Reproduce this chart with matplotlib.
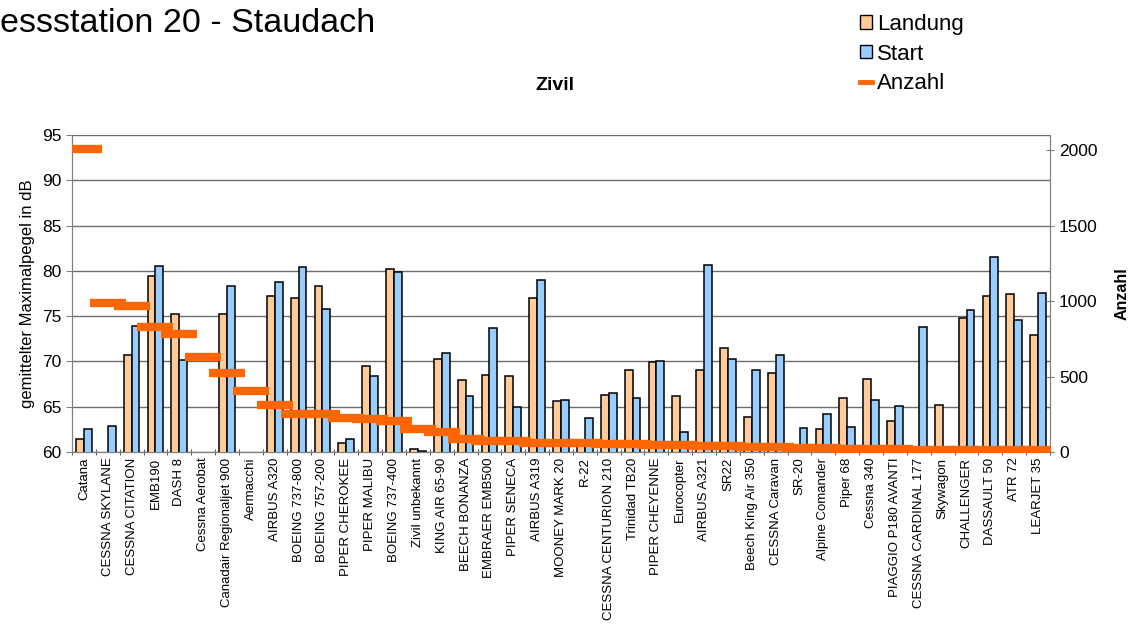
import numpy as np
import matplotlib
matplotlib.use('Agg')
import matplotlib.pyplot as plt
from matplotlib.lines import Line2D
from matplotlib.patches import Patch

plt.rcParams.update({
    'font.family': ['Liberation Sans', 'DejaVu Sans'],
    'axes.edgecolor': '#808080',
    'xtick.color': '#000000', 'ytick.color': '#000000',
})
COLORS = {'landung': '#FFCC99', 'start': '#99CCFF', 'anzahl': '#FF6600'}

# ── Data ──────────────────────────────────────────────────────
types = [
    'Catana', 'CESSNA SKYLANE', 'CESSNA CITATION', 'EMB190', 'DASH 8',
    'Cessna Aerobat', 'Canadair Regionaljet 900', 'Aermacchi', 'AIRBUS A320',
    'BOEING 737-800', 'BOEING 757-200', 'PIPER CHEROKEE', 'PIPER MALIBU',
    'BOEING 737-400', 'Zivil unbekannt', 'KING AIR 65-90', 'BEECH BONANZA',
    'EMBRAER EMB500', 'PIPER SENECA', 'AIRBUS A319', 'MOONEY MARK 20', 'R-22',
    'CESSNA CENTURION 210', 'Trinidad TB20', 'PIPER CHEYENNE', 'Eurocopter',
    'AIRBUS A321', 'SR22', 'Beech King Air 350', 'CESSNA Caravan', 'SR-20',
    'Alpine Comander', 'Piper 68', 'Cessna 340', 'PIAGGIO P180 AVANTI',
    'CESSNA CARDINAL 177', 'Skywagon', 'CHALLENGER', 'DASSAULT 50', 'ATR 72',
    'LEARJET 35',
]
landung = [61.4, 0, 70.7, 79.4, 75.2, 0, 75.2, 0, 77.2, 77.0,
           78.3, 61.0, 69.5, 80.2, 60.3, 70.3, 68.0, 68.5, 68.4, 77.0,
           65.6, 61.0, 66.3, 69.1, 69.9, 66.2, 69.1, 71.5, 63.9, 68.7,
           0, 62.5, 66.0, 68.1, 63.4, 0, 65.2, 74.8, 77.2, 77.4,
           72.9]
start = [62.5, 62.9, 73.9, 80.5, 70.2, 0, 78.3, 0, 78.8, 80.4,
         75.8, 61.4, 68.4, 79.9, 60.15, 70.9, 66.2, 73.7, 65.0, 79.0,
         65.7, 63.8, 66.5, 66.0, 70.1, 62.2, 80.7, 70.3, 69.1, 70.7,
         62.7, 64.2, 62.8, 65.7, 65.1, 73.8, 0, 75.7, 81.5, 74.6,
         77.5]
anzahl = [2010, 990, 967, 826, 784, 631, 525, 402, 313, 254,
          250, 227, 220, 205, 150, 130, 88, 75, 70, 62,
          62, 62, 50, 50, 48, 45, 42, 38, 35, 32,
          28, 25, 22, 20, 18, 16, 15, 14, 12, 11,
          10]

# ── Figure ────────────────────────────────────────────────────
fig = plt.figure(figsize=(11.37, 6.28), dpi=100)
ax = fig.add_axes([0.0633, 0.2803, 0.8602, 0.5047])
x = np.arange(len(types))
w = 0.33

ax.bar(x - w / 2, landung, w, color=COLORS['landung'],
       edgecolor='black', linewidth=1.1, zorder=3)
ax.bar(x + w / 2, start, w, color=COLORS['start'],
       edgecolor='black', linewidth=1.1, zorder=3)

ax.set_xlim(-0.5, len(types) - 0.5)
ax.set_ylim(60, 95)
ax.set_yticks(range(60, 96, 5))
ax.grid(True, axis='y', color='#6e6e6e', linewidth=1.0, zorder=0)
ax.set_ylabel('gemittelter Maximalpegel in dB', fontsize=12, labelpad=5)
ax.tick_params(axis='y', labelsize=12.5, length=4, color='#808080')

# category labels at centres, tick marks at the boundaries
ax.set_xticks(x)
ax.set_xticklabels(types, rotation=90, fontsize=9.5)
ax.tick_params(axis='x', which='major', length=0, pad=4)
ax.set_xticks(np.arange(len(types) + 1) - 0.5, minor=True)
ax.tick_params(axis='x', which='minor', length=4, direction='inout',
               color='#404040')
ax.spines['top'].set_visible(False)
ax.spines['bottom'].set_color('#404040')

# ── Anzahl on the right axis ──────────────────────────────────
ax2 = ax.twinx()
ax2.plot(x, anzahl, linestyle='none', marker='_', markersize=26,
         markeredgewidth=6, color=COLORS['anzahl'], zorder=5)
ax2.set_ylim(0, 2100)
ax2.set_yticks(range(0, 2001, 500))
ax2.tick_params(axis='y', labelsize=12.5, length=6, direction='inout',
                color='#808080')
ax2.set_ylabel('Anzahl', fontsize=11.5, fontweight='bold', labelpad=12)
ax2.spines['top'].set_visible(False)

# ── Titles and legend ─────────────────────────────────────────
# the reference title is cropped at the left edge, only this part is visible
fig.text(0.0, 1 - 32 / 628, 'essstation 20 - Staudach',
         fontsize=24.5, ha='left', va='baseline')
fig.text(555 / 1137, 1 - 85 / 628, 'Zivil', fontsize=14,
         fontweight='bold', ha='center', va='center')

handles = [
    Patch(facecolor=COLORS['landung'], edgecolor='black', label='Landung'),
    Patch(facecolor=COLORS['start'], edgecolor='black', label='Start'),
    Line2D([0], [0], color=COLORS['anzahl'], lw=3.5, label='Anzahl'),
]
fig.legend(handles=handles, loc='upper left',
           bbox_to_anchor=(840 / 1137, 1.01), frameon=False,
           fontsize=16, handlelength=0.55, handleheight=0.55,
           handletextpad=0.2, labelspacing=0.4)

plt.savefig('out.png', dpi=100)
plt.close()
